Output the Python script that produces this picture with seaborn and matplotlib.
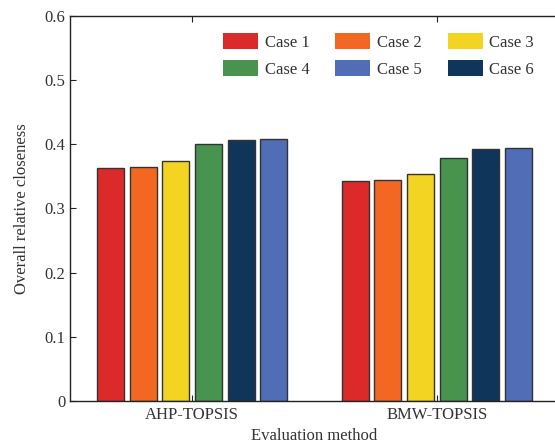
import matplotlib
matplotlib.use('Agg')
import matplotlib.pyplot as plt
import seaborn as sns
import pandas as pd
from matplotlib.patches import Patch

# data
methods = ['AHP-TOPSIS', 'BMW-TOPSIS']
cases = ['Case 1', 'Case 2', 'Case 3', 'Case 4', 'Case 5', 'Case 6']
case1 = [0.363, 0.343]
case2 = [0.365, 0.345]
case3 = [0.374, 0.353]
case4 = [0.401, 0.379]
case5 = [0.409, 0.394]
case6 = [0.406, 0.393]
# bars in the original are drawn with Case 6 before Case 5
bar_order = ['Case 1', 'Case 2', 'Case 3', 'Case 4', 'Case 6', 'Case 5']

colors = {
    'Case 1': '#DC2A2A',
    'Case 2': '#F26822',
    'Case 3': '#F3D422',
    'Case 4': '#48944F',
    'Case 5': '#516DB5',
    'Case 6': '#0F355B',
}

rows = []
for case, vals in zip(cases, [case1, case2, case3, case4, case5, case6]):
    for m, v in zip(methods, vals):
        rows.append({'method': m, 'case': case, 'value': v})
df = pd.DataFrame(rows)

sns.set_style('ticks')
plt.rcParams['font.family'] = ['Liberation Serif', 'DejaVu Serif']

fig = plt.figure(figsize=(5.55, 4.45), dpi=100)
ax = fig.add_axes([70 / 555, 44 / 445, 489 / 555, 385 / 445])

sns.barplot(data=df, x='method', y='value', hue='case', hue_order=bar_order,
            palette=colors, saturation=1, width=0.8, gap=0.17,
            edgecolor='#333333', linewidth=1.0, ax=ax, legend=False)

ax.set_xlim(-0.5, 1.5)
ax.set_ylim(0, 0.6)
ax.set_yticks([0, 0.1, 0.2, 0.3, 0.4, 0.5, 0.6])
ax.set_yticklabels(['0', '0.1', '0.2', '0.3', '0.4', '0.5', '0.6'])
ax.tick_params(direction='in', length=4, width=0.8, labelsize=12,
               top=True, right=False, colors='#222222', labelcolor='#333333')
ax.tick_params(axis='x', pad=4)
for s in ax.spines.values():
    s.set_visible(True)
    s.set_linewidth(1.0)
    s.set_color('#222222')

ax.set_xlabel('Evaluation method', fontsize=12, color='#333333', labelpad=4)
ax.set_ylabel('Overall relative closeness', fontsize=12, color='#333333', labelpad=10)

# legend filled row by row: Case 1-3 on top, Case 4-6 below
handles = {c: Patch(facecolor=colors[c], edgecolor='none') for c in cases}
leg_order = ['Case 1', 'Case 4', 'Case 2', 'Case 5', 'Case 3', 'Case 6']
ax.legend([handles[c] for c in leg_order], leg_order, ncol=3, frameon=False,
          loc='upper left', bbox_to_anchor=(223 / 555, 1 - 33 / 445),
          bbox_transform=fig.transFigure, borderpad=0, borderaxespad=0,
          fontsize=12, handlelength=2.1, handleheight=1.1, handletextpad=0.4,
          columnspacing=1.55, labelspacing=0.55, labelcolor='#333333')

fig.savefig('out.png', dpi=100)
